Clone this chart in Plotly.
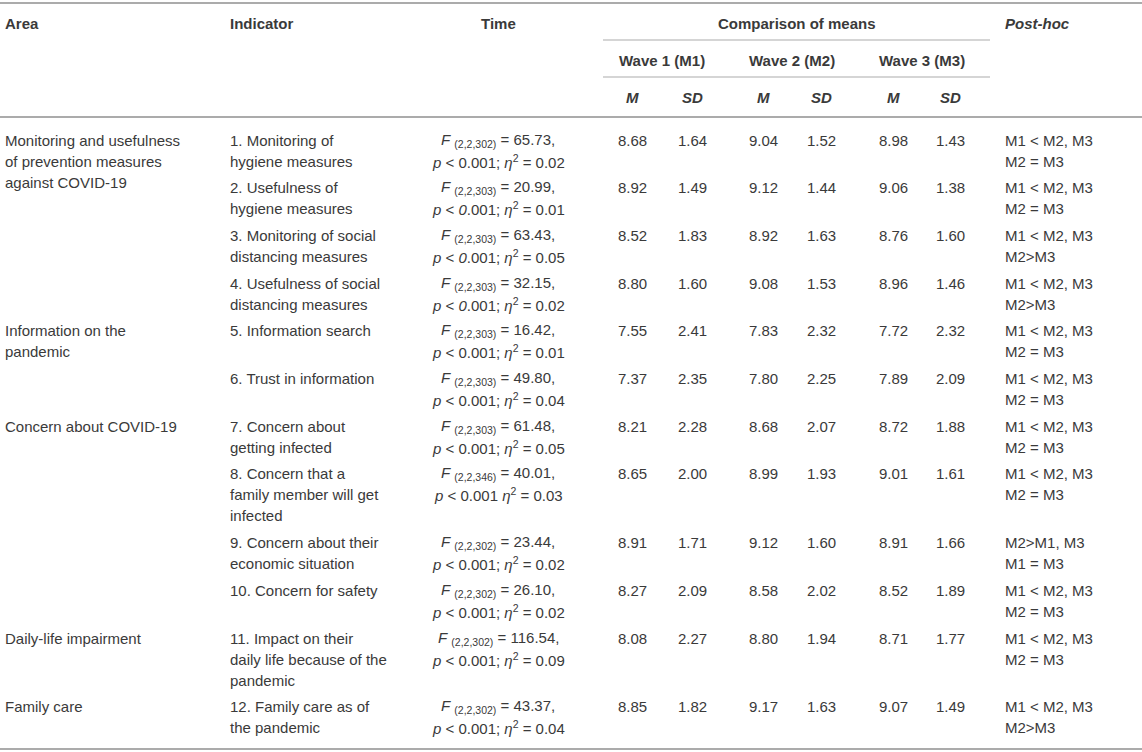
import plotly.graph_objects as go

# ---- table data ----
areas = ["Monitoring and usefulness\nof prevention measures\nagainst COVID-19",
         "Information on the\npandemic",
         "Concern about COVID-19",
         "Daily-life impairment",
         "Family care"]
area_start_row = [0, 4, 6, 10, 11]

indicators = ["1. Monitoring of\nhygiene measures",
              "2. Usefulness of\nhygiene measures",
              "3. Monitoring of social\ndistancing measures",
              "4. Usefulness of social\ndistancing measures",
              "5. Information search",
              "6. Trust in information",
              "7. Concern about\ngetting infected",
              "8. Concern that a\nfamily member will get\ninfected",
              "9. Concern about their\neconomic situation",
              "10. Concern for safety",
              "11. Impact on their\ndaily life because of the\npandemic",
              "12. Family care as of\nthe pandemic"]

f_df = ["(2,2,302)", "(2,2,303)", "(2,2,303)", "(2,2,303)", "(2,2,303)", "(2,2,303)",
        "(2,2,303)", "(2,2,346)", "(2,2,302)", "(2,2,302)", "(2,2,302)", "(2,2,302)"]
f_val = ["65.73", "20.99", "63.43", "32.15", "16.42", "49.80",
         "61.48", "40.01", "23.44", "26.10", "116.54", "43.37"]
p_txt = ["0.001;", "<i>0</i>.001;", "<i>0</i>.001;", "<i>0</i>.001;", "0.001;", "0.001;",
         "0.001;", "0.001", "0.001;", "0.001;", "0.001;", "0.001;"]
eta_sq = ["0.02", "0.01", "0.05", "0.02", "0.01", "0.04",
          "0.05", "0.03", "0.02", "0.02", "0.09", "0.04"]

m1 = ["8.68", "8.92", "8.52", "8.80", "7.55", "7.37", "8.21", "8.65", "8.91", "8.27", "8.08", "8.85"]
sd1 = ["1.64", "1.49", "1.83", "1.60", "2.41", "2.35", "2.28", "2.00", "1.71", "2.09", "2.27", "1.82"]
m2 = ["9.04", "9.12", "8.92", "9.08", "7.83", "7.80", "8.68", "8.99", "9.12", "8.58", "8.80", "9.17"]
sd2 = ["1.52", "1.44", "1.63", "1.53", "2.32", "2.25", "2.07", "1.93", "1.60", "2.02", "1.94", "1.63"]
m3 = ["8.98", "9.06", "8.76", "8.96", "7.72", "7.89", "8.72", "9.01", "8.91", "8.52", "8.71", "9.07"]
sd3 = ["1.43", "1.38", "1.60", "1.46", "2.32", "2.09", "1.88", "1.61", "1.66", "1.89", "1.77", "1.49"]

post_hoc = ["M1 < M2, M3\nM2 = M3", "M1 < M2, M3\nM2 = M3", "M1 < M2, M3\nM2>M3",
            "M1 < M2, M3\nM2>M3", "M1 < M2, M3\nM2 = M3", "M1 < M2, M3\nM2 = M3",
            "M1 < M2, M3\nM2 = M3", "M1 < M2, M3\nM2 = M3", "M2>M1, M3\nM1 = M3",
            "M1 < M2, M3\nM2 = M3", "M1 < M2, M3\nM2 = M3", "M1 < M2, M3\nM2>M3"]

waves = ["Wave 1 (M1)", "Wave 2 (M2)", "Wave 3 (M3)"]

# ---- layout constants ----
W, H = 1142, 752
FONT = "Liberation Sans, Arial, sans-serif"
TXT = "#3a3a3a"
LINE = "#ababab"
FS = 15
LH = 21          # line height
GAP = 5.7        # extra space between rows
FIRST_ROW_Y = 140

x_area, x_ind, x_time = 3, 228, 498
x_num = [632, 692, 763, 821, 893, 950]
x_post = 1003
sub_x0, sub_x1 = 603, 990


def esc(s):
    return s.replace("<", "&lt;").replace(">", "&gt;")


fig = go.Figure()
annotations = []


def add_text(x, y, text, anchor="left", bold=False, italic=False, size=FS):
    t = esc(text)
    if italic:
        t = "<i>" + t + "</i>"
    if bold:
        t = "<b>" + t + "</b>"
    annotations.append(dict(x=x, y=y, xref="x", yref="y", text=t, showarrow=False,
                            xanchor=anchor, yanchor="middle",
                            font=dict(family=FONT, size=size, color=TXT)))


def add_raw(x, y, html, anchor="center"):
    annotations.append(dict(x=x, y=y, xref="x", yref="y", text=html, showarrow=False,
                            xanchor=anchor, yanchor="middle",
                            font=dict(family=FONT, size=FS, color=TXT)))


# header
add_text(x_area, 23, "Area", bold=True)
add_text(x_ind, 23, "Indicator", bold=True)
add_text(x_time, 23, "Time", anchor="center", bold=True)
add_text((sub_x0 + sub_x1) / 2, 23, "Comparison of means", anchor="center", bold=True)
add_text(x_post, 23, "Post-hoc", bold=True, italic=True)
for i, w in enumerate(waves):
    add_text((x_num[2 * i] + x_num[2 * i + 1]) / 2, 60, w, anchor="center", bold=True)
    add_text(x_num[2 * i], 97, "M", anchor="center", bold=True, italic=True)
    add_text(x_num[2 * i + 1], 97, "SD", anchor="center", bold=True, italic=True)

# body rows
row_y = []
y = FIRST_ROW_Y
for i in range(len(indicators)):
    row_y.append(y)
    n = max(len(indicators[i].split("\n")), 2)
    y += n * LH + GAP

for a, r in zip(areas, area_start_row):
    for k, line in enumerate(a.split("\n")):
        add_text(x_area, row_y[r] + k * LH, line)

for i in range(len(indicators)):
    y0 = row_y[i]
    for k, line in enumerate(indicators[i].split("\n")):
        add_text(x_ind, y0 + k * LH, line)
    add_raw(x_time, y0, "<i>F</i> <sub>" + f_df[i] + "</sub> = " + f_val[i] + ",")
    add_raw(x_time, y0 + LH, "<i>p</i> &lt; " + p_txt[i] + " <i>η</i><sup>2</sup> = " + eta_sq[i])
    for xc, col in zip(x_num, [m1, sd1, m2, sd2, m3, sd3]):
        add_text(xc, y0, col[i], anchor="center")
    for k, line in enumerate(post_hoc[i].split("\n")):
        add_text(x_post, y0 + k * LH, line)

# rules
shapes = [
    dict(type="line", x0=0, x1=W, y0=3, y1=3, line=dict(color=LINE, width=2)),
    dict(type="line", x0=sub_x0, x1=sub_x1, y0=40, y1=40, line=dict(color=LINE, width=1.2)),
    dict(type="line", x0=sub_x0, x1=sub_x1, y0=77, y1=77, line=dict(color=LINE, width=1.2)),
    dict(type="line", x0=0, x1=W, y0=117, y1=117, line=dict(color=LINE, width=2)),
    dict(type="line", x0=0, x1=W, y0=749, y1=749, line=dict(color=LINE, width=2)),
]
for s in shapes:
    s.update(xref="x", yref="y")

fig.update_layout(
    width=W, height=H,
    margin=dict(l=0, r=0, t=0, b=0),
    paper_bgcolor="white", plot_bgcolor="white",
    xaxis=dict(range=[0, W], visible=False, fixedrange=True),
    yaxis=dict(range=[H, 0], visible=False, fixedrange=True),
    annotations=annotations, shapes=shapes,
    showlegend=False,
)

# drop the browser's default page margin so the table sits flush like the reference
fig.write_html("out.html", config={"displayModeBar": False},
               post_script="document.body.style.margin='0px';")
